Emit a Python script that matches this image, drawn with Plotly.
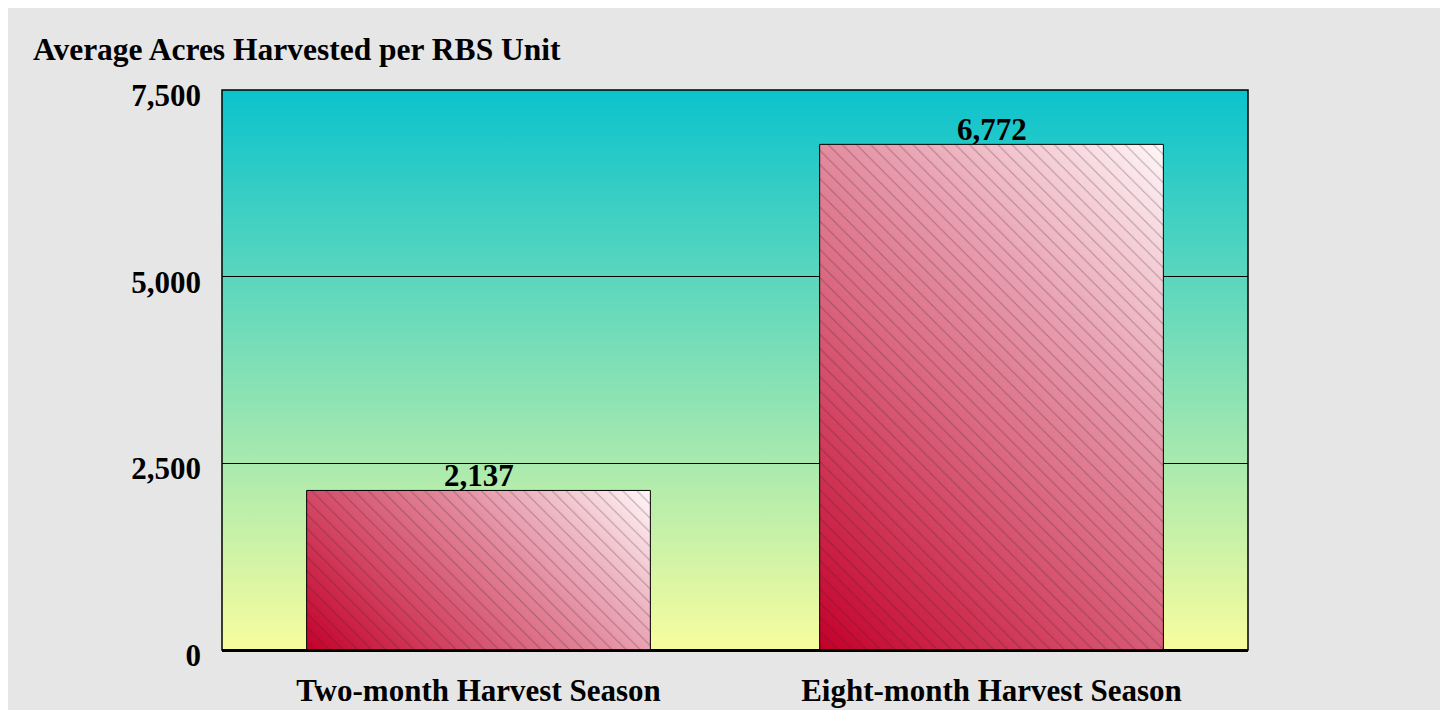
import numpy as np
import plotly.graph_objects as go

# chart values
categories = ["Two-month Harvest Season", "Eight-month Harvest Season"]
acres = [2137, 6772]
y_ticks = [0, 2500, 5000, 7500]
title_text = "Average Acres Harvested per RBS Unit"

serif = "Liberation Serif, Times New Roman, serif"
bar_width = 0.67
xpos = list(range(len(categories)))
x_range = [-0.5, len(categories) - 0.5]

# plot area in pixels (used only to shape the bar shading at 45 degrees)
plot_w, plot_h = 1026, 560
px_per_x = plot_w / (x_range[1] - x_range[0])
px_per_y = plot_h / y_ticks[-1]

fig = go.Figure()

# plot area background on the bottom subplot (x/y): teal -> pale yellow
fig.add_trace(go.Scatter(
    x=[x_range[0], x_range[1], x_range[1], x_range[0], x_range[0]],
    y=[0, 0, y_ticks[-1], y_ticks[-1], 0],
    mode="lines", line=dict(width=0), fill="toself",
    fillgradient=dict(type="vertical", start=0, stop=y_ticks[-1],
                      colorscale=[[0, "#f8fd9e"], [1, "#0bc3cd"]]),
    hoverinfo="skip", showlegend=False, xaxis="x", yaxis="y",
))

# diagonal crimson -> white shading inside each bar (top subplot x2/y2)
n = 120
bar_scale = [[0, "#c4002a"], [0.41, "#d9607a"], [0.59, "#e38a9e"], [1, "#fff7f9"]]
for xc, val in zip(xpos, acres):
    xe = np.linspace(xc - bar_width / 2, xc + bar_width / 2, n + 1)
    ye = np.linspace(0, val, n + 1)
    w_px = bar_width * px_per_x
    h_px = val * px_per_y
    f = (np.arange(n) + 0.5) / n
    z = (f[None, :] * w_px + f[:, None] * h_px) / (w_px + h_px)
    fig.add_trace(go.Heatmap(
        x=xe.tolist(), y=ye.tolist(), z=z.tolist(), zmin=0, zmax=1, colorscale=bar_scale,
        showscale=False, hoverinfo="skip", xaxis="x2", yaxis="y2",
    ))

# bars: outline + hatching
fig.add_trace(go.Bar(
    x=xpos, y=acres, width=bar_width, xaxis="x2", yaxis="y2",
    marker=dict(color="rgba(0,0,0,0)", line=dict(color="black", width=1),
                pattern=dict(shape="\\", size=10, solidity=0.1,
                             fgcolor="rgba(60,30,40,0.7)", bgcolor="rgba(0,0,0,0)",
                             fillmode="overlay")),
    showlegend=False, hoverinfo="skip",
))

# value labels just above each bar
value_labels = [
    dict(x=xc, y=val, xref="x2", yref="y2", text=f"{val:,}", showarrow=False,
         yanchor="middle", yshift=15,
         font=dict(family=serif, size=31, color="black", weight="bold"))
    for xc, val in zip(xpos, acres)
]

fig.update_layout(
    width=1448, height=710,
    margin=dict(l=214, r=208, t=82, b=68),
    paper_bgcolor="#e6e6e6",
    plot_bgcolor="rgba(0,0,0,0)",
    font=dict(family=serif, color="black"),
    title=dict(text=title_text, x=25 / 1448, xanchor="left", y=1 - 41 / 710, yanchor="middle",
               font=dict(family=serif, size=31.5, color="black", weight="bold")),
    xaxis=dict(domain=[0, 1], range=x_range, visible=False),
    yaxis=dict(domain=[0, 1], range=[0, y_ticks[-1]], visible=False),
    xaxis2=dict(
        domain=[0, 1], anchor="y2", range=x_range, tickvals=xpos, ticktext=categories,
        showgrid=False, zeroline=False, ticks="", ticklabelstandoff=19, automargin=False,
        tickfont=dict(family=serif, size=31, color="black", weight="bold"),
    ),
    yaxis2=dict(
        domain=[0, 1], anchor="x2", range=[0, y_ticks[-1]], tickvals=y_ticks, tickformat=",",
        showgrid=True, gridcolor="black", gridwidth=1,
        zeroline=True, zerolinecolor="black", zerolinewidth=3,
        ticks="", ticklabelstandoff=20, ticklabelshift=5, automargin=False,
        tickfont=dict(family=serif, size=31, color="black", weight="bold"),
    ),
    annotations=value_labels,
    shapes=[
        # plot frame
        dict(type="rect", xref="paper", yref="paper", x0=0, x1=1, y0=0, y1=1,
             line=dict(color="black", width=1.5), layer="above"),
    ],
)

fig.write_html("out.html")
